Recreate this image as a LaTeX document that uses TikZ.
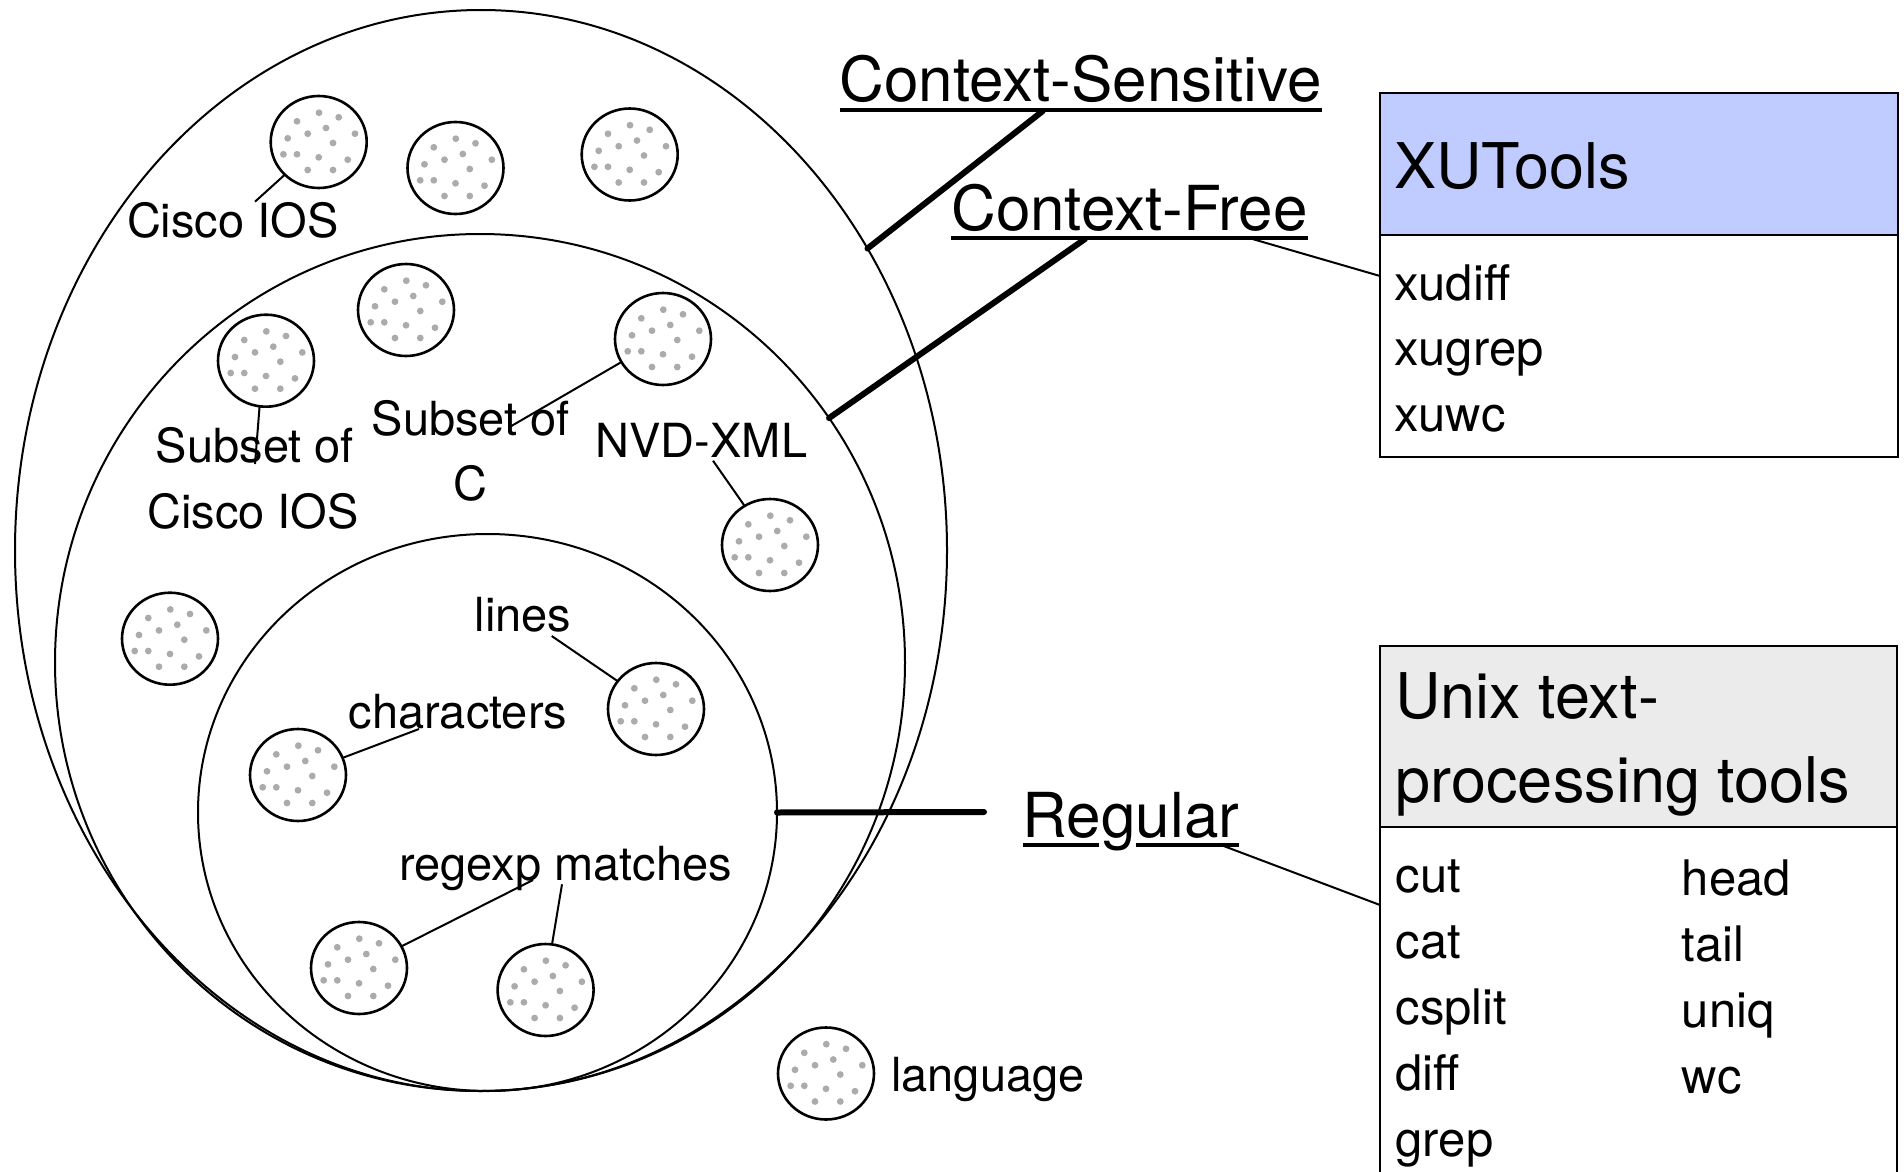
\documentclass[tikz,border=0pt]{standalone}
\usepackage{fontspec}
\setmainfont{TeX Gyre Heros}
\usetikzlibrary{shapes.geometric,calc}
\definecolor{dotgray}{RGB}{171,171,171}
\definecolor{xublue}{RGB}{192,204,255}
\definecolor{unixgray}{RGB}{235,235,235}
\begin{document}
\begin{tikzpicture}[x=1pt,y=-1pt,
  region/.style={ellipse, draw, line width=2pt, inner sep=0pt, outer sep=0pt},
  lang/.style={ellipse, draw, line width=2.6pt, minimum width=96pt, minimum height=92pt,
    inner sep=0pt, outer sep=0pt, fill=white,
    path picture={
      \foreach \dx/\dy in {0.3/29.3, 20/24.7, -21.7/20.7, 7.3/14, -11/8.3, 36.3/8.3,
                           -31/3.7, 14.3/-1, -35.3/-12.3, -21.7/-12.3, 0/-15.3,
                           29/-17.7, -11/-28, 14.3/-28}
        \fill[dotgray] ($(path picture bounding box.center)+(\dx pt,\dy pt)$) circle[radius=3.4pt];
    }},
  title/.style={font=\fontsize{62}{74}\selectfont, inner sep=0pt},
  lbl/.style={font=\fontsize{47}{56}\selectfont, inner sep=0pt},
  item/.style={font=\fontsize{49}{58}\selectfont, inner sep=0pt, anchor=base west},
  boxtitle/.style={font=\fontsize{63}{76}\selectfont, inner sep=0pt, anchor=base west},
  boxframe/.style={rectangle, draw, line width=2.2pt, inner sep=0pt, outer sep=0pt},
  uline/.style={line width=3.5pt},
  heavy/.style={line width=6pt, line cap=round},
  leader/.style={line width=2pt}]

\useasboundingbox (0,0) rectangle (1904,1172);
\fill[white] (0,0) rectangle (1904,1172);
\clip (0,0) rectangle (1904,1172);

% language classes
\node[region, minimum width=932pt, minimum height=1081pt] (cs)  at (481,550.5) {};
\node[region, minimum width=850pt, minimum height=857pt]  (cf)  at (480,662.5) {};
\node[region, minimum width=579pt, minimum height=557pt]  (reg) at (487.5,812.5) {};

% individual languages
\node[lang] (c1)  at (318.7,142) {};
\node[lang] (c2)  at (455.5,168) {};
\node[lang] (c3)  at (629.7,154.5) {};
\node[lang] (c4)  at (266,360.7) {};
\node[lang] (c5)  at (406,310) {};
\node[lang] (c6)  at (663,339) {};
\node[lang] (c7)  at (770,545) {};
\node[lang] (c8)  at (170,638.7) {};
\node[lang] (c9)  at (656,709) {};
\node[lang] (c10) at (298,775) {};
\node[lang] (c11) at (359,968) {};
\node[lang] (c12) at (545.6,990) {};
\node[lang] (legend) at (826,1073.5) {};

% language labels
\node[lbl, anchor=base] (lcisco) at (232.8,237.5) {Cisco IOS};
\node[lbl, anchor=base] (lsubA)  at (255,462.5) {Subset of};
\node[lbl, anchor=base] (lsubB)  at (253,528.6) {Cisco IOS};
\node[lbl, anchor=base] (lsubC)  at (470.7,435.7) {Subset of};
\node[lbl, anchor=base] (lsubD)  at (470.5,500) {C};
\node[lbl, anchor=base] (lnvd)   at (701.4,457) {NVD-XML};
\node[lbl, anchor=base] (llines) at (523,631.7) {lines};
\node[lbl, anchor=base] (lchars) at (458,728.3) {characters};
\node[lbl, anchor=base] (lregex) at (565.8,880) {regexp matches};
\node[lbl, anchor=base west] (llang) at (891,1091.7) {language};

% label leaders
\coordinate (tcisco) at (255,201.7);
\coordinate (tsubA)  at (255,464);
\coordinate (tsubC)  at (510,426.8);
\coordinate (tnvd)   at (713,460.7);
\coordinate (tlines) at (551.7,636);
\coordinate (tchars) at (419,729);
\coordinate (tregA)  at (533,880);
\coordinate (tregB)  at (562,884.3);
\draw[leader] (c1.224)   -- (tcisco);
\draw[leader] (c4.262.5) -- (tsubA);
\draw[leader] (c6.209.8) -- (tsubC);
\draw[leader] (tnvd)   -- (c7.123.3);
\draw[leader] (tlines) -- (c9.144.6);
\draw[leader] (tchars) -- (c10.21.7);
\draw[leader] (tregA)  -- (c11.27);
\draw[leader] (tregB)  -- (c12.82);

% class names
\node[title, anchor=base] (tCS)  at (1080.8,102) {Context-Sensitive};
\node[title, anchor=base] (tCF)  at (1129.5,230) {Context-Free};
\node[title, anchor=base] (tReg) at (1131,837) {Regular};
\draw[uline] ([yshift=-8pt]tCS.base west) -- ([yshift=-8pt]tCS.base east);
\draw[uline] ([yshift=-8pt]tCF.base west) -- ([yshift=-8pt]tCF.base east);
\draw[uline] ([yshift=-8pt]tReg.base west) -- ([yshift=-8pt,xshift=76pt]tReg.base west);
\draw[uline] ([yshift=-8pt,xshift=113pt]tReg.base west) -- ([yshift=-8pt]tReg.base east);

\coordinate (csfoot)  at ([xshift=-38pt,yshift=-9pt]tCS.base);
\coordinate (cffoot)  at ([xshift=-44.5pt,yshift=-9pt]tCF.base);
\coordinate (regfoot) at ([xshift=-147pt,yshift=25pt]tReg.base);
\draw[heavy] (csfoot) -- (cs.38.1);
\draw[heavy] (cffoot) -- (cf.35.1);
\draw[heavy] (reg.east) -- (regfoot);

% XUTools box
\node[boxframe, fill=xublue, minimum width=518pt, minimum height=142.6pt, anchor=north west] (xuhead) at (1380,92.7) {};
\node[boxframe, minimum width=518pt, minimum height=221.4pt, anchor=north west] (xubody) at (xuhead.south west) {};
\node[boxtitle] (xutitle) at (1394,188.3) {XUTools};
\node[item] (xudiff) at (1394,300) {xudiff};
\node[item] (xugrep) at (1394,365.8) {xugrep};
\node[item] (xuwc)   at (1394,431.7) {xuwc};

% Unix tools box
\node[boxframe, fill=unixgray, minimum width=517pt, minimum height=181pt, anchor=north west] (unihead) at (1380,646) {};
\node[boxframe, minimum width=517pt, minimum height=370pt, anchor=north west] (unibody) at (unihead.south west) {};
\node[boxtitle] (unititleA) at (1395.5,718) {Unix text-};
\node[boxtitle] (unititleB) at (1395.5,802) {processing tools};
\node[item] (ucut)   at (1395.5,892)  {cut};
\node[item] (ucat)   at (1395.5,958)  {cat};
\node[item] (ucspl)  at (1395.5,1024) {csplit};
\node[item] (udiff)  at (1395.5,1090) {diff};
\node[item] (ugrep)  at (1395.5,1156) {grep};
\node[item] (uhead)  at (1681.6,895)  {head};
\node[item] (utail)  at (1681.6,961)  {tail};
\node[item] (uuniq)  at (1681.6,1027) {uniq};
\node[item] (uwc)    at (1681.6,1093) {wc};

% links to tool boxes
\coordinate (cfpick)  at ([xshift=120.5pt,yshift=-8.3pt]tCF.base);
\coordinate (regpick) at ([xshift=90pt,yshift=-8pt]tReg.base);
\draw[leader] (cfpick)  -- ([yshift=-40.7pt]xubody.north west);
\draw[leader] (regpick) -- ([yshift=-78pt]unibody.north west);
\end{tikzpicture}
\end{document}
